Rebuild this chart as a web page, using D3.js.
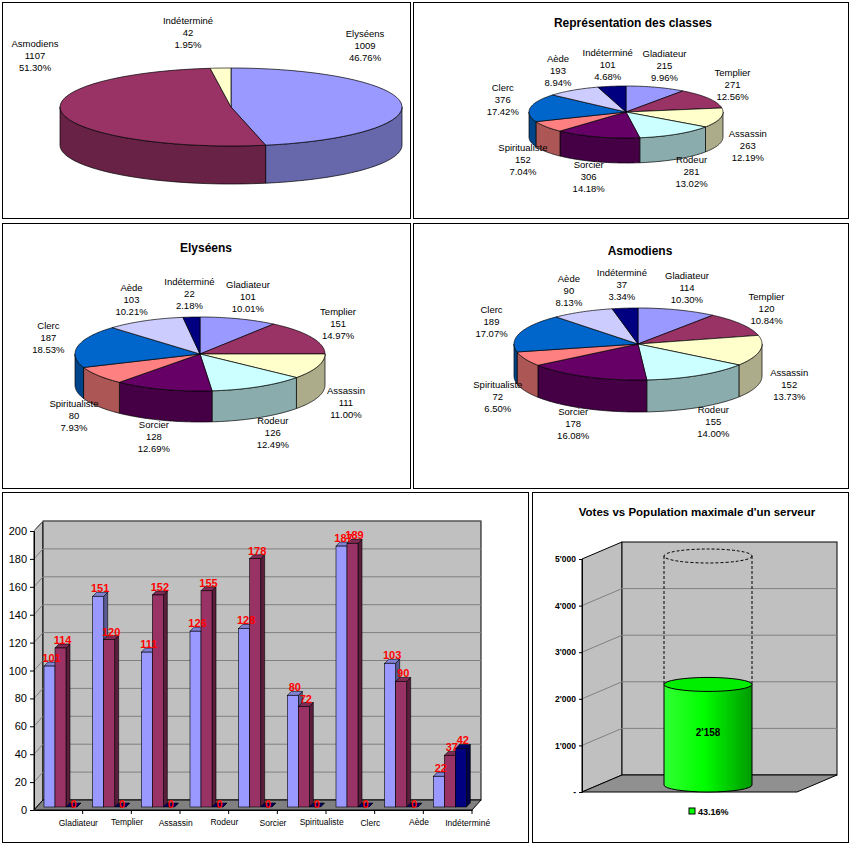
<!DOCTYPE html>
<html><head><meta charset="utf-8">
<script src="https://cdn.jsdelivr.net/npm/d3@7"></script>
<style>body{margin:0;background:#fff}text{font-family:"Liberation Sans",Arial,sans-serif}</style>
</head><body><svg id="c" width="851" height="845"></svg>
<script>
const classes = ["Gladiateur","Templier","Assassin","Rodeur","Sorcier","Spiritualiste","Clerc","Aède","Indéterminé"];
const classColors = ["#9999ff","#993366","#ffffcc","#ccffff","#660066","#ff8080","#0066cc","#ccccff","#000080"];
const elyseens = [101,151,111,126,128,80,187,103,22];
const asmodiens = [114,120,152,155,178,72,189,90,37];
const indetermines = [0,0,0,0,0,0,0,0,42];
const totals = [215,271,263,281,306,152,376,193,101];
const factions = ["Elyséens","Asmodiens","Indéterminé"];
const factionVotes = [1009,1107,42];
const factionColors = ["#9999ff","#993366","#ffffcc"];
const yTicks = [0,20,40,60,80,100,120,140,160,180,200];
const popTicks = [0,1000,2000,3000,4000,5000];
const popMax = 5000, votes = 2158;

const svg = d3.select("#c");
const fmtPct = v => d3.format(".2f")(v) + "%";

// panel borders
[[2,2,408,216],[413,2,435,216],[2,223,408,265],[413,223,435,265],[2,492,526,350],[532,492,316,350]]
  .forEach(p => svg.append("rect").attr("x",p[0]+0.5).attr("y",p[1]+0.5).attr("width",p[2]).attr("height",p[3])
    .attr("fill","none").attr("stroke","#000"));

function pie3d(o) {
  const g = svg.append("g");
  const arcs = d3.pie().sort(null)(o.values);
  const total = d3.sum(o.values);
  const pt = (a, dy=0) => [o.cx + o.rx*Math.sin(a), o.cy - o.ry*Math.cos(a) + dy];
  const pts = (a0, a1, dy) => d3.range(0, 41).map(k => pt(a0 + (a1-a0)*k/40, dy));
  arcs.forEach((d, i) => {
    const a0 = Math.max(d.startAngle, Math.PI/2), a1 = Math.min(d.endAngle, 3*Math.PI/2);
    if (a1 <= a0) return;
    const top = pts(a0, a1, 0), bot = pts(a1, a0, o.depth);
    g.append("path").attr("d", "M" + top.concat(bot).join("L") + "Z")
      .attr("fill", d3.color(o.colors[i]).darker(1.1)).attr("stroke","#000").attr("stroke-width",0.7);
  });
  arcs.forEach((d, i) => {
    const p = pts(d.startAngle, d.endAngle, 0);
    g.append("path").attr("d", "M" + [o.cx,o.cy] + "L" + p.join("L") + "Z")
      .attr("fill", o.colors[i]).attr("stroke","#000").attr("stroke-width",0.7);
  });
  arcs.forEach((d, i) => {
    const m = (d.startAngle + d.endAngle)/2;
    let lx = o.cx + (o.rx + o.lr)*Math.sin(m);
    let ly = o.cy - (o.ry + o.lr*0.6)*Math.cos(m) + (Math.cos(m) < 0 ? o.depth + 4 : 0) - 14;
    if (o.labelAt) [lx, ly] = o.labelAt[i];
    const t = g.append("text").attr("x", lx).attr("y", ly).attr("text-anchor","middle").attr("font-size",9.5);
    [o.labels[i], o.values[i], fmtPct(o.values[i]/total*100)].forEach((s, k) =>
      t.append("tspan").attr("x", lx).attr("dy", k ? 12 : 0).text(s));
  });
  if (o.title) svg.append("text").attr("x", o.tx).attr("y", o.ty).attr("text-anchor","middle")
    .attr("font-size",12).attr("font-weight","bold").text(o.title);
}

pie3d({values: factionVotes, labels: factions, colors: factionColors, cx:231, cy:107, rx:171, ry:39, depth:38, lr:18,
  labelAt: [[365,37],[35,47],[188,24]]});
pie3d({values: totals, labels: classes, colors: classColors, cx:626, cy:112, rx:97, ry:26, depth:25, lr:28,
  title:"Représentation des classes", tx:633, ty:27});
pie3d({values: elyseens, labels: classes, colors: classColors, cx:200, cy:354, rx:125, ry:37, depth:31, lr:30,
  title:"Elyséens", tx:206, ty:252});
pie3d({values: asmodiens, labels: classes, colors: classColors, cx:638, cy:344, rx:124, ry:36, depth:32, lr:30,
  title:"Asmodiens", tx:640, ty:255});

// ---- 3D bar chart
(function(){
  const g = svg.append("g");
  const y = d3.scaleLinear().domain([0,200]).range([810,531]);
  const x = d3.scaleBand().domain(classes).range([34,472]).paddingInner(0).paddingOuter(0);
  const dx = 9, dy = -10;
  g.append("path").attr("d",`M34,810L34,531L${34+dx},${531+dy}L${34+dx},${810+dy}Z`).attr("fill","#c0c0c0").attr("stroke","#000");
  g.append("rect").attr("x",34+dx).attr("y",531+dy).attr("width",438).attr("height",279).attr("fill","#c0c0c0").attr("stroke","#000");
  g.append("path").attr("d",`M34,810L472,810L${472+dx},${810+dy}L${34+dx},${810+dy}Z`).attr("fill","#808080").attr("stroke","#000");
  yTicks.slice(1).forEach(t => {
    g.append("line").attr("x1",34).attr("y1",y(t)).attr("x2",34+dx).attr("y2",y(t)+dy).attr("stroke","#808080");
    g.append("line").attr("x1",34+dx).attr("y1",y(t)+dy).attr("x2",472+dx).attr("y2",y(t)+dy).attr("stroke","#808080");
  });
  const ax = g.append("g").attr("transform","translate(34,0)").call(d3.axisLeft(y).tickValues(yTicks).tickSize(4).tickSizeOuter(0));
  ax.selectAll("text").attr("font-size",11).attr("fill","#000");
  ax.select(".domain").attr("stroke","#000");
  const xa = g.append("g").attr("transform","translate(0,810)").call(d3.axisBottom(x).tickSize(0).tickFormat(""));
  xa.select(".domain").attr("stroke","#000");
  classes.forEach((c,i) => {
    const xr = x(c) + x.bandwidth();
    g.append("line").attr("x1",xr).attr("x2",xr).attr("y1",810).attr("y2",814).attr("stroke","#000");
    g.append("text").attr("x", x(c)+x.bandwidth()/2+20).attr("y", 826 + (i%2 ? -1 : 0)).attr("text-anchor","middle")
      .attr("font-size",8.5).text(c);
  });
  const series = [elyseens, asmodiens, indetermines];
  const cols = ["#9999ff","#993366","#000080"];
  const bw = 11, d = 4, base = 807;
  const labels = [];
  classes.forEach((c,i) => {
    series.forEach((s,k) => {
      const x0 = x(c) + 10 + k*bw, yt = y(s[i]) - 3;
      const col = cols[k];
      g.append("path").attr("d",`M${x0+bw},${base}L${x0+bw+d},${base-d}L${x0+bw+d},${yt-d}L${x0+bw},${yt}Z`)
        .attr("fill",d3.color(col).darker(1.5)).attr("stroke","#000").attr("stroke-width",0.6);
      g.append("path").attr("d",`M${x0},${yt}L${x0+d},${yt-d}L${x0+bw+d},${yt-d}L${x0+bw},${yt}Z`)
        .attr("fill",d3.color(col).darker(0.5)).attr("stroke","#000").attr("stroke-width",0.6);
      if (s[i] > 0) g.append("rect").attr("x",x0).attr("y",yt).attr("width",bw).attr("height",base-yt)
        .attr("fill",col).attr("stroke","#000").attr("stroke-width",0.6);
      labels.push([x0+bw/2+2, s[i] ? yt-4 : yt+1, s[i]]);
    });
  });
  labels.forEach(l => g.append("text").attr("x",l[0]).attr("y",l[1]).attr("text-anchor","middle").attr("font-size",11)
    .attr("font-weight","bold").attr("fill","#ff0000").text(l[2]));
})();

// ---- cylinder chart
(function(){
  const g = svg.append("g");
  const y = d3.scaleLinear().domain([0,popMax]).range([792,559]);
  const dx = 40, dy = -17;
  const L = 582, R = 797;
  g.append("path").attr("d",`M${L},${y(0)}L${L},${y(popMax)}L${L+dx},${y(popMax)+dy}L${L+dx},${y(0)+dy}Z`).attr("fill","#c0c0c0").attr("stroke","#000");
  g.append("rect").attr("x",L+dx).attr("y",y(popMax)+dy).attr("width",R-L).attr("height",y(0)-y(popMax)).attr("fill","#c0c0c0").attr("stroke","#000");
  g.append("path").attr("d",`M${L},${y(0)}L${R},${y(0)}L${R+dx},${y(0)+dy}L${L+dx},${y(0)+dy}Z`).attr("fill","#909090").attr("stroke","#000");
  popTicks.slice(1,5).forEach(t => {
    g.append("line").attr("x1",L).attr("y1",y(t)).attr("x2",L+dx).attr("y2",y(t)+dy).attr("stroke","#808080");
    g.append("line").attr("x1",L+dx).attr("y1",y(t)+dy).attr("x2",R+dx).attr("y2",y(t)+dy).attr("stroke","#808080");
  });
  const ax = g.append("g").attr("transform",`translate(${L},0)`)
    .call(d3.axisLeft(y).tickValues(popTicks).tickSize(3).tickFormat(v => v ? d3.format(",")(v).replace(",", "'") : "-"));
  ax.selectAll("text").attr("font-size",8.5).attr("font-weight","bold").attr("fill","#000");
  ax.select(".domain").attr("stroke","#000");
  const cx = 708, rx = 44, ry = 7, yb = 785;
  const yTop = yb - (y(0) - y(votes)) , yMax = yb - (y(0) - y(popMax)) + 4;
  g.append("line").attr("x1",cx-rx).attr("x2",cx-rx).attr("y1",yMax).attr("y2",yTop).attr("stroke","#000").attr("stroke-dasharray","3,2");
  g.append("line").attr("x1",cx+rx).attr("x2",cx+rx).attr("y1",yMax).attr("y2",yTop).attr("stroke","#000").attr("stroke-dasharray","3,2");
  g.append("ellipse").attr("cx",cx).attr("cy",yMax).attr("rx",rx).attr("ry",ry).attr("fill","none").attr("stroke","#000").attr("stroke-dasharray","3,2");
  const grad = svg.append("defs").append("linearGradient").attr("id","gr");
  [["0%","#33ff33"],["45%","#00ff00"],["100%","#009900"]].forEach(s => grad.append("stop").attr("offset",s[0]).attr("stop-color",s[1]));
  g.append("path").attr("d",`M${cx-rx},${yTop}L${cx-rx},${yb}A${rx},${ry} 0 0 0 ${cx+rx},${yb}L${cx+rx},${yTop}Z`)
    .attr("fill","url(#gr)").attr("stroke","#000");
  g.append("ellipse").attr("cx",cx).attr("cy",yTop).attr("rx",rx).attr("ry",ry).attr("fill","#00ee00").attr("stroke","#000");
  g.append("text").attr("x",cx).attr("y",736).attr("text-anchor","middle").attr("font-size",10).attr("font-weight","bold").text("2'158");
  svg.append("text").attr("x",697).attr("y",516).attr("text-anchor","middle").attr("font-size",11.5).attr("font-weight","bold")
    .text("Votes vs Population maximale d'un serveur");
  g.append("rect").attr("x",689).attr("y",808).attr("width",6).attr("height",6).attr("fill","#00ff00").attr("stroke","#000");
  g.append("text").attr("x",698).attr("y",814.5).attr("font-size",9).attr("font-weight","bold").text(fmtPct(votes/popMax*100));
})();
</script></body></html>
